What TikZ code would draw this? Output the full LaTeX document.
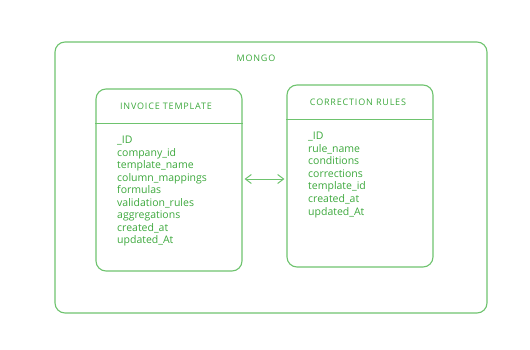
\documentclass[tikz,border=0pt]{standalone}
\usepackage{fontspec}
\setmainfont{Open Sans}
\usepackage{xcolor}
\usetikzlibrary{calc, arrows.meta}

\definecolor{ink}{RGB}{60,168,60}
\definecolor{edge}{RGB}{110,195,110}

\tikzset{
	box/.style={draw=edge, line width=1.1pt, rounded corners=10pt, inner sep=0pt},
	title/.style={text=ink, font=\fontsize{9}{10}\selectfont\addfontfeature{LetterSpace=9}},
	field/.style={text=ink, anchor=base west, inner sep=0pt, font=\fontsize{10.5}{11}\selectfont},
}

\begin{document}
\begin{tikzpicture}[x=1pt, y=-1pt]
	\useasboundingbox (0,0) rectangle (530,350);
	
	% outer database frame
	\node[box, minimum width=432pt, minimum height=271pt] (mongo) at (271,177.5) {};
	\node[title] (dbname) at (256,58) {MONGO};
	
	% the two collections
	\node[box, minimum width=146pt, minimum height=182pt] (tmpl) at (169,180) {};
	\node[box, minimum width=146pt, minimum height=182pt] (rules) at (360,176) {};
	
	\begin{scope}
		\node[title] (tmplname) at (166,106.5) {INVOICE TEMPLATE};
		\node[title] (rulesname) at (358,102.5) {CORRECTION RULES};
		\draw[edge, line width=1pt] (tmpl.west |- 0,123.5) -- (tmpl.east |- 0,123.5);
		\draw[edge, line width=1pt] (rules.west |- 0,119.5) -- ([xshift=-2pt]rules.east |- 0,119.5);
	\end{scope}
	
	% fields of each collection
	\foreach \f [count=\i] in {\_ID, company\_id, template\_name, column\_mappings, formulas, validation\_rules, aggregations, created\_at, updated\_At}
		\node[field] (tf\i) at (117,{144+12.45*(\i-1)}) {\f};
	
	\foreach \f [count=\i] in {\_ID, rule\_name, conditions, corrections, template\_id, created\_at, updated\_At}
		\node[field] (rf\i) at (308,{139.5+12.6*(\i-1)}) {\f};
	
	% link between collections
	\begin{scope}[{Straight Barb[length=6pt,width=9pt]}-{Straight Barb[length=6pt,width=9pt]}, edge, line width=1pt]
		\draw ([xshift=2pt]tmpl.east |- 0,179) -- ([xshift=-2pt]rules.west |- 0,179);
	\end{scope}
\end{tikzpicture}
\end{document}
